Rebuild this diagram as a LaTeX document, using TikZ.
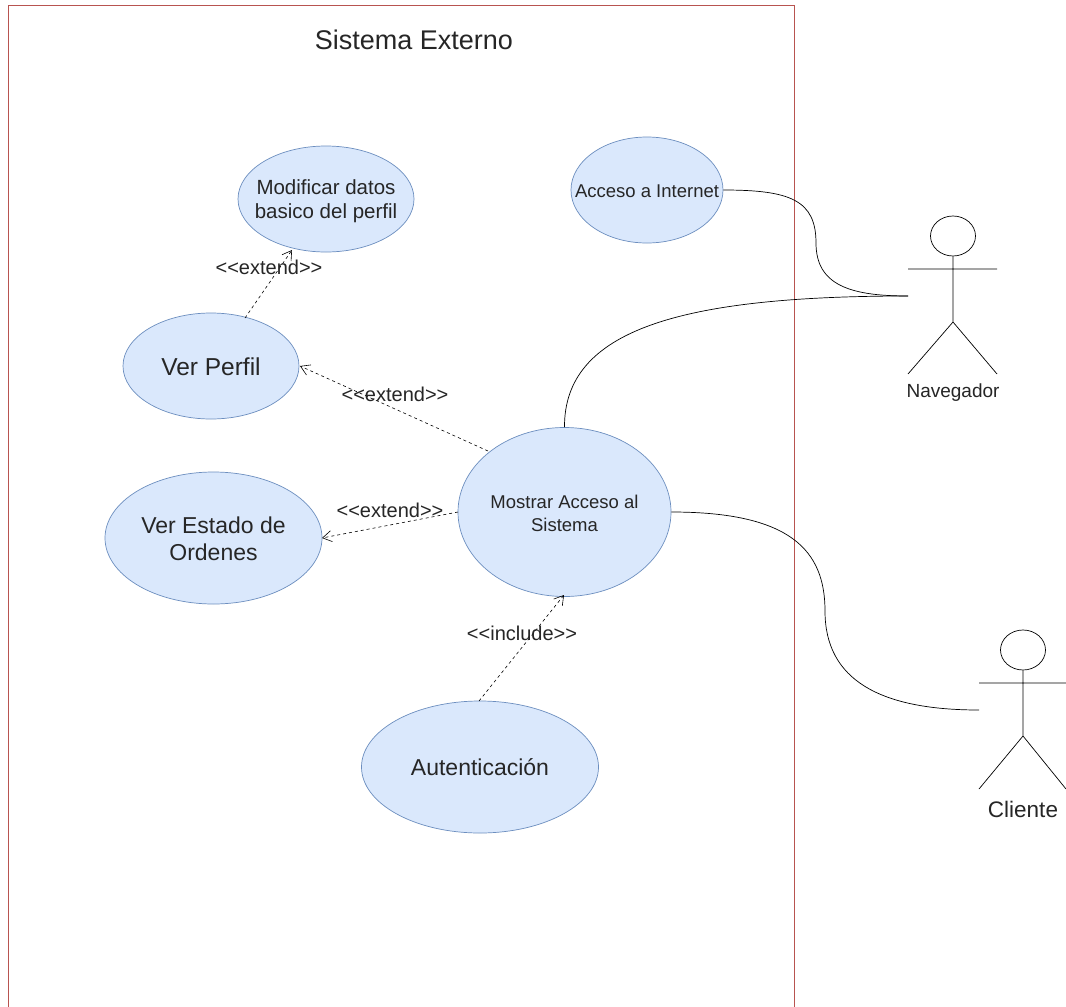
\documentclass[tikz,border=0pt]{standalone}
\usepackage{fontspec}
\setmainfont{Liberation Sans}
\usetikzlibrary{arrows.meta,shapes.geometric}
\definecolor{ucfill}{HTML}{DAE8FC}
\definecolor{ucline}{HTML}{6C8EBF}
\definecolor{sysline}{HTML}{B85450}
\newcommand{\fs}[2]{\fontsize{#1pt}{#2pt}\selectfont}
\newcommand{\dn}[2]{\raisebox{-#1pt}[\height][\depth]{#2}}
\tikzset{
  x=1pt,y=-1pt,
  uc/.style={draw=ucline,fill=ucfill,ellipse,line width=0.7pt,inner sep=0pt,align=center,text=black!85},
  dep/.style={dash pattern=on 3pt off 3pt,line width=0.6pt,-{Straight Barb[length=9pt,width=11pt,line width=0.6pt]}},
  lnk/.style={line width=0.7pt},
  lab/.style={inner sep=0pt,text=black!85},
  act/.style={line width=0.7pt},
  acthead/.style={draw=black,fill=white,ellipse,minimum width=45,minimum height=40,inner sep=0pt,line width=0.7pt}
}
\begin{document}
\begin{tikzpicture}
\useasboundingbox (0,0) rectangle (1066,1007);
\fill[white] (0,0) rectangle (1066,1007);
\draw[sysline,line width=1pt] (8.5,1007) -- (8.5,5.5) -- (794,5.5) -- (794,1007);
\node[lab,font=\fs{27}{32}] (title) at (414,40) {Sistema Externo};
\node[uc,minimum width=176,minimum height=106,font=\fs{20.5}{24}] (mod) at (326,199) {\dn{2}{\makebox[0pt]{Modificar datos}}\\\dn{2}{\makebox[0pt]{basico del perfil}}};
\node[uc,minimum width=152,minimum height=106,font=\fs{18.5}{22}] (inet) at (647,190) {\dn{1}{\makebox[0pt]{Acceso a Internet}}};
\node[uc,minimum width=176,minimum height=106,font=\fs{24.5}{28}] (perfil) at (211,366) {\dn{1}{Ver Perfil}};
\node[uc,minimum width=217,minimum height=132,font=\fs{23}{27}] (orden) at (213.5,538) {\dn{1}{Ver Estado de}\\\dn{1}{Ordenes}};
\node[uc,minimum width=213,minimum height=169,font=\fs{18.5}{23}] (acc) at (564.5,512) {\dn{1}{Mostrar Acceso al}\\\dn{1}{Sistema}};
\node[uc,minimum width=237,minimum height=132,font=\fs{23}{27}] (aut) at (480,767) {Autenticación};
% actor Navegador
\node[acthead] (h1) at (953,236) {};
\coordinate (n1) at (953,322);
\coordinate (a1l) at (908,296);
\draw[act] (h1.south) -- (n1) (908,269) -- (997,269) (n1) -- (908,374) (n1) -- (997,374);
\node[lab,font=\fs{19}{22}] (navlab) at (953,392.5) {Navegador};
% actor Cliente
\node[acthead] (h2) at (1023,650) {};
\coordinate (n2) at (1023,736);
\coordinate (a2l) at (979,710);
\draw[act] (h2.south) -- (n2) (979,683) -- (1066,683) (n2) -- (979,789) (n2) -- (1066,789);
\node[lab,font=\fs{22.5}{26}] (clilab) at (1023,809) {Cliente};
% connectors
\draw[lnk] (inet.east) .. controls (790,190) and (816,200) .. (816,243) .. controls (816,285) and (850,296) .. (a1l);
\draw[lnk] (acc.north) .. controls (564,330) and (680,296) .. (a1l);
\draw[lnk] (acc.east) .. controls (790,512) and (825,550) .. (825,611) .. controls (825,680) and (880,710) .. (a2l);
\coordinate (d1s) at (245,318); \coordinate (d1e) at (292,250);
\coordinate (d2s) at (488,451); \coordinate (d2e) at (300,366);
\coordinate (d3s) at (458,512); \coordinate (d3e) at (322,538);
\coordinate (d4s) at (479,701); \coordinate (d4e) at (564,595);
\draw[dep] (d1s) -- (d1e);
\draw[dep] (d2s) -- (d2e);
\draw[dep] (d3s) -- (d3e);
\draw[dep] (d4s) -- (d4e);
\node[lab,font=\fs{20}{24}] (e1) at (269,267.5) {<{}<extend>{}>};
\node[lab,font=\fs{20}{24}] (e2) at (395,394.5) {<{}<extend>{}>};
\node[lab,font=\fs{20}{24}] (e3) at (390,510.5) {<{}<extend>{}>};
\node[lab,font=\fs{20}{24}] (e4) at (522,633.5) {<{}<include>{}>};
\end{tikzpicture}
\end{document}
